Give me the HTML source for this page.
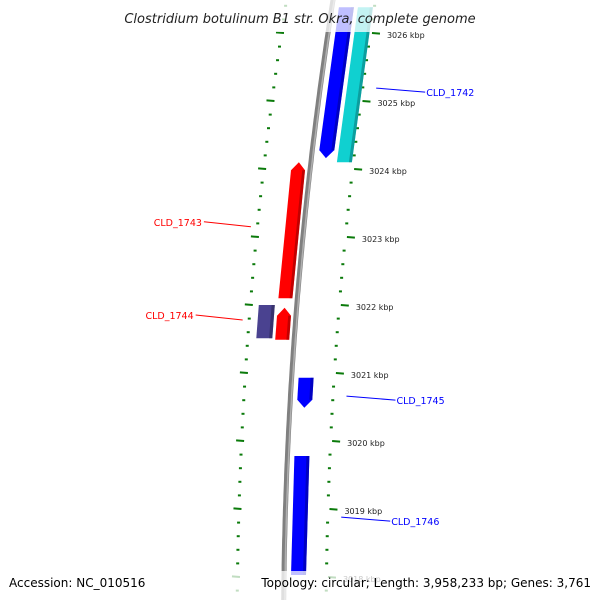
<!DOCTYPE html>
<html><head><meta charset="utf-8"><style>
html,body{margin:0;padding:0;background:#fff;}
svg{display:block;font-family:"DejaVu Sans","Liberation Sans",sans-serif;}
</style></head><body>
<svg id="chart" width="600" height="600" viewBox="0 0 600 600" xmlns="http://www.w3.org/2000/svg">
<g id="ticks"></g>
<g id="backbone"></g>
<g id="genes"></g>
<g id="labels"></g>
<rect x="0" y="0" width="600" height="32" fill="#fff" fill-opacity="0.75"/>
<rect x="0" y="571" width="600" height="29" fill="#fff" fill-opacity="0.75"/>
<text x="300" y="23" text-anchor="middle" font-size="13" font-style="italic" fill="#222">Clostridium botulinum B1 str. Okra, complete genome</text>
<text x="9" y="587" font-size="12" fill="#000">Accession: NC_010516</text>
<text x="591" y="587" text-anchor="end" font-size="12" fill="#000">Topology: circular; Length: 3,958,233 bp; Genes: 3,761</text>
</svg>
<script>
// ---- data ----
const scaleKbp = [3026, 3025, 3024, 3023, 3022, 3021, 3020, 3019, 3018];
const geneNames = ["CLD_1742", "CLD_1742b", "CLD_1743", "CLD_1744", "CLD_1744b", "CLD_1745", "CLD_1746"];
const geneStart = [3026.38, 3026.38, 3024.10, 3022.00, 3021.96, 3020.93, 3019.78];
const geneEnd   = [3024.16, 3024.10, 3022.10, 3021.51, 3021.49, 3020.49, 3018.03];
const geneTrack = [1, 2, -1, -2, -1, 1, 1];
const geneArrow = ["down", "none", "up", "none", "up", "down", "none"];
const geneColor = ["#0000ff", "#10d0d0", "#ff0000", "#4a4290", "#ff0000", "#0000ff", "#0000ff"];
const labelText = ["CLD_1742", "CLD_1743", "CLD_1744", "CLD_1745", "CLD_1746"];
const labelKbp  = [3025.19, 3023.15, 3021.78, 3020.66, 3018.88];
const labelSide = [1, -1, -1, 1, 1];
const labelColor = ["#0000ff", "#ff0000", "#ff0000", "#0000ff", "#0000ff"];

// ---- axis functions ----
const NS = "http://www.w3.org/2000/svg";
function yOf(kbp){ return 33 + (3026 - kbp) * 68; }
function ringR(y){ return 380 - 0.1563*y + 0.0001236*y*y; }
function bbX(y){ return ringR(y) - 47; }
const trackOff = {1:[7,22], 2:[26,41], "-1":[-19,-5], "-2":[-38,-22]};
function mk(tag, attrs, parent){ const e=document.createElementNS(NS,tag); for(const k in attrs) e.setAttribute(k,attrs[k]); parent.appendChild(e); return e; }

// backbone
const bb = document.getElementById('backbone');
let pts=[]; for(let y=-5;y<=605;y+=5) pts.push(bbX(y).toFixed(1)+","+y);
const bl = mk('polyline',{points:pts.join(' '),fill:'none',stroke:'#808080','stroke-width':5},bb);


let pts2=[]; for(let y=-5;y<=605;y+=5) pts2.push((bbX(y)+1.2).toFixed(1)+","+y);
const bh = mk('polyline',{points:pts2.join(' '),fill:'none',stroke:'#b0b0b0','stroke-width':1.5},bb);



// ticks (every 0.2 kbp)
const tg = document.getElementById('ticks');
const kMax = scaleKbp[0] + 0.6, kMin = scaleKbp[scaleKbp.length-1] - 0.6;
for(let i=Math.round(kMax*5); i>=Math.round(kMin*5); i--){
  const k=i/5, y=yOf(k); if(y<-5||y>605) continue;
  const major = (i%5===0);
  const xr = ringR(y), xl = xr-94;
  const r = mk('line', major?{x1:xr-3,y1:y,x2:xr+5,y2:y+0.6}:{x1:xr-6,y1:y,x2:xr-3,y2:y},tg);
  r.setAttribute('stroke','#0a7a0a'); r.setAttribute('stroke-width',2);
  
  
  const l = mk('line', major?{x1:xl-5,y1:y-0.6,x2:xl+3,y2:y}:{x1:xl-1,y1:y,x2:xl+2,y2:y},tg);
  l.setAttribute('stroke','#0a7a0a'); l.setAttribute('stroke-width',2);
  
  
}
scaleKbp.forEach(k=>{
  const y=yOf(k);
  const t=mk('text',{x:ringR(y)+12,y:y+5,'font-size':8,fill:'#222'},tg);
  t.textContent=k+" kbp";
  
  
});

// genes
const gg = document.getElementById('genes');
function shade(c){ const n=parseInt(c.slice(1),16); const f=v=>Math.round(v*0.6); return 'rgb('+f(n>>16)+','+f((n>>8)&255)+','+f(n&255)+')'; }
geneNames.forEach((name,i)=>{
  const y1=yOf(geneStart[i]), y2=yOf(geneEnd[i]);
  const [a,b]=trackOff[geneTrack[i]];
  const ah=8, dir=geneArrow[i];
  const topY = dir==="up"? y1+ah : y1, botY = dir==="down"? y2-ah : y2;
  const L=y=>bbX(y)+a, R=y=>bbX(y)+b;
  let p=[];
  if(dir==="up") p.push([(L(y1)+R(y1))/2, y1]);
  p.push([R(topY),topY]); p.push([R(botY),botY]);
  if(dir==="down") p.push([(L(y2)+R(y2))/2, y2]);
  p.push([L(botY),botY]); p.push([L(topY),topY]);
  const g=mk('g',{},gg);
  
  
  mk('polygon',{points:p.map(q=>q[0].toFixed(1)+","+q[1].toFixed(1)).join(' '),fill:geneColor[i]},g);
  const w=(b-a)*0.2;
  const sp=[[R(topY)-w,topY],[R(topY),topY],[R(botY),botY],[R(botY)-w,botY]];
  mk('polygon',{points:sp.map(q=>q[0].toFixed(1)+","+q[1].toFixed(1)).join(' '),fill:shade(geneColor[i]),'fill-opacity':0.6},g);
});

// labels
const lg = document.getElementById('labels');
labelText.forEach((t,i)=>{
  const y=yOf(labelKbp[i]);
  const g=mk('g',{},lg);
  
  
  if(labelSide[i]>0){
    const x0=ringR(y)+9;
    mk('line',{x1:x0,y1:y,x2:x0+49,y2:y+4,stroke:labelColor[i],'stroke-width':1},g);
    const tx=mk('text',{x:x0+50,y:y+8,'font-size':9.5,fill:labelColor[i]},g); tx.textContent=t;
  } else {
    const x0=ringR(y)-94-6;
    mk('line',{x1:x0,y1:y,x2:x0-47,y2:y-5,stroke:labelColor[i],'stroke-width':1},g);
    const tx=mk('text',{x:x0-49,y:y-1,'font-size':9.5,fill:labelColor[i],'text-anchor':'end'},g); tx.textContent=t;
  }
});
</script>
</body></html>
